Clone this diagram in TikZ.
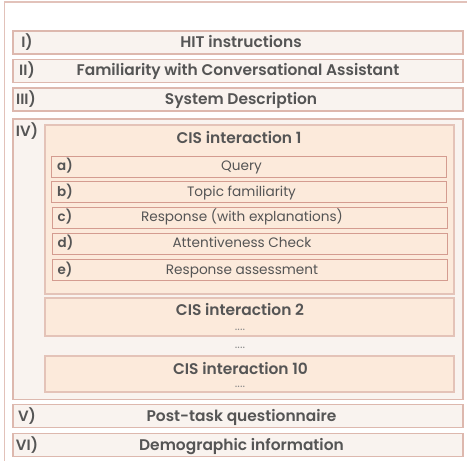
\documentclass[tikz,border=0pt]{standalone}
\usepackage{fontspec}
\setmainfont{Poppins}[BoldFont={Poppins SemiBold}]
\definecolor{frameline}{HTML}{E2C2BA}
\definecolor{barline}{HTML}{DDB8AE}
\definecolor{barfill}{HTML}{F9F3EF}
\definecolor{cisfill}{HTML}{FCEADB}
\definecolor{cisline}{HTML}{E4C3B8}
\definecolor{subline}{HTML}{D49C90}
\definecolor{txt}{HTML}{555555}
\definecolor{dotc}{HTML}{8A8A8A}
\tikzset{
  x=1bp,y=-1bp,
  bar/.style={draw=barline,fill=barfill,line width=1.8bp,minimum width=450bp,minimum height=23bp,inner sep=0pt},
  cisbox/.style={draw=cisline,fill=cisfill,line width=1.8bp,minimum width=409bp,inner sep=0pt},
  subbar/.style={draw=subline,fill=cisfill,line width=0.9bp,minimum width=395bp,minimum height=21bp,inner sep=0pt},
  maintxt/.style={text=txt,font=\bfseries\fontsize{15.5}{17}\selectfont,inner sep=0pt,anchor=base},
  roman/.style={text=txt,font=\bfseries\fontsize{15}{17}\selectfont,inner sep=0pt,anchor=base},
  subtxt/.style={text=txt,font=\fontsize{13.7}{15}\selectfont,inner sep=0pt,anchor=base},
  sublab/.style={text=txt,font=\bfseries\fontsize{13.5}{15}\selectfont,inner sep=0pt,anchor=base west},
  dots/.style={text=dotc,font=\fontsize{12}{13}\selectfont,inner sep=0pt,anchor=base},
}
\begin{document}
\begin{tikzpicture}
\useasboundingbox (0,0) rectangle (467,461);
\fill[white] (0,0) rectangle (467,461);
\coordinate (fb) at (4.5,461);
\coordinate (fc) at (4.5,2);
\coordinate (fr) at (470,2);
\draw[frameline,line width=1.5bp] (fb) -- (fc) -- (fr);

% main bars
\node[bar] (b1) at (238,42.5) {};
\node[maintxt] (t1) at (241,47.3) {HIT instructions};
\node[roman] (r1) at (27,47.3) {I)};
\node[bar] (b2) at (238,71) {};
\node[maintxt] (t2) at (238,76) {Familiarity with Conversational Assistant};
\node[roman] (r2) at (27,76) {II)};
\node[bar] (b3) at (238,99.5) {};
\node[maintxt] (t3) at (241,104.3) {System Description};
\node[roman] (r3) at (26,104.3) {III)};

% IV box
\node[bar,minimum height=280.5bp] (b4) at (238,259.25) {};
\node[roman] (r4) at (27,136.7) {IV)};

% CIS 1
\node[cisbox,minimum height=169bp] (c1) at (249.5,209.5) {};
\node[maintxt] (c1t) at (239,143.3) {CIS interaction 1};
\node[subbar] (sa) at (249.2,167) {};
\node[subbar] (sb) at (249.2,192.2) {};
\node[subbar] (sc) at (249.7,217.8) {};
\node[subbar] (sd) at (249.7,243.7) {};
\node[subbar] (se) at (249.7,270) {};
\node[sublab] (la) at (57,171) {a)};
\node[sublab] (lb) at (57,196.7) {b)};
\node[sublab] (lc) at (57.5,222) {c)};
\node[sublab] (ld) at (57.5,247.7) {d)};
\node[sublab] (le) at (57.5,274.3) {e)};
\node[subtxt] (xa) at (241.5,171) {Query};
\node[subtxt] (xb) at (241.5,196.7) {Topic familiarity};
\node[subtxt] (xc) at (242,222) {Response (with explanations)};
\node[subtxt] (xd) at (242,247.7) {Attentiveness Check};
\node[subtxt] (xe) at (242,274.3) {Response assessment};

% CIS 2
\node[cisbox,minimum height=37.4bp] (c2) at (249.5,317) {};
\node[maintxt] (c2t) at (240,315.7) {CIS interaction 2};
\node[dots] (d2) at (240,330.5) {....};
\node[dots] (dm) at (240,348.5) {....};

% CIS 10
\node[cisbox,minimum height=36.6bp] (c10) at (249.5,374) {};
\node[maintxt] (c10t) at (240.5,374.3) {CIS interaction 10};
\node[dots] (d10) at (240,387.5) {....};

% V, VI
\node[bar] (b5) at (238,416) {};
\node[maintxt] (t5) at (241.5,421) {Post-task questionnaire};
\node[roman] (r5) at (27,421) {V)};
\node[bar] (b6) at (238,445) {};
\node[maintxt] (t6) at (241.5,450.7) {Demographic information};
\node[roman] (r6) at (27,450.7) {VI)};
\end{tikzpicture}
\end{document}
